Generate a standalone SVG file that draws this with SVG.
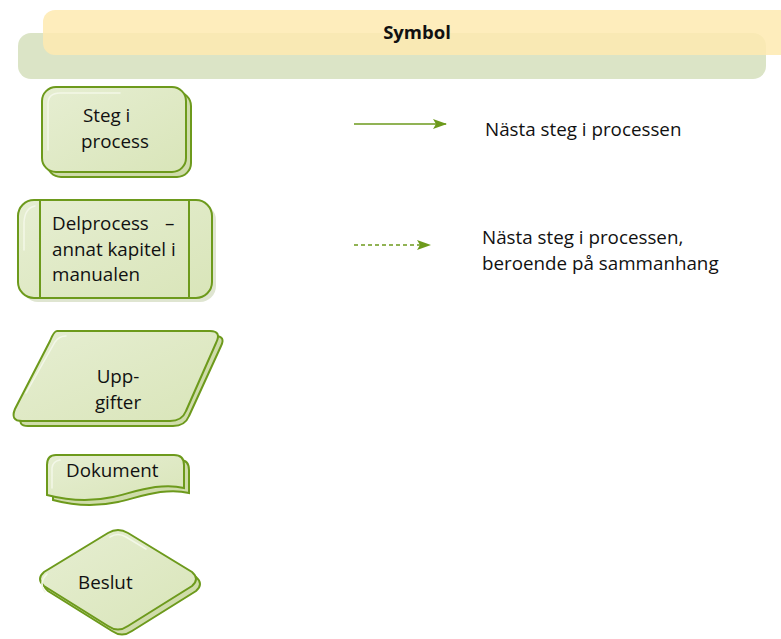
<svg xmlns="http://www.w3.org/2000/svg" width="781" height="639" viewBox="0 0 781 639">
  <defs>
    <linearGradient id="nodeFill" x1="0" y1="0" x2="1" y2="1">
      <stop offset="0" stop-color="#e6eed2"/>
      <stop offset="1" stop-color="#d9e5b9"/>
    </linearGradient>
    <marker id="arrowHead" viewBox="0 0 14 10" refX="13" refY="5" markerWidth="14" markerHeight="10" markerUnits="userSpaceOnUse" orient="auto">
      <path d="M0,0 L14,5 L0,10 L3,5 Z" fill="#6d9a1c"/>
    </marker>
  </defs>
  <style>
    .shape { fill: url(#nodeFill); stroke: #6d9a1c; stroke-width: 2; }
    .shadow { fill: #cfdcaa; stroke: #6d9a1c; stroke-width: 2; }
    .soft { fill: #c9d3b3; opacity: 0.6; }
    .shine { fill: none; stroke: #f3f7e8; stroke-width: 1.5; stroke-linecap: round; }
    .label { font-family: "Open Sans", "Liberation Sans", sans-serif; font-size: 18.8px; fill: #111; }
    .head { font-family: "Open Sans", "Liberation Sans", sans-serif; font-size: 18.5px; font-weight: bold; fill: #111; }
    .edge { fill: none; stroke: #6d9a1c; stroke-width: 1.3; }
  </style>
  <rect width="781" height="639" fill="#ffffff"/>

  <!-- heading band -->
  <g id="header">
    <rect x="18" y="33" width="748" height="46" rx="13" fill="#dbe4c6"/>
    <rect x="43" y="10" width="760" height="45" rx="12" fill="#feeab0" opacity="0.85"/>
    <text class="head" x="417" y="39" text-anchor="middle">Symbol</text>
  </g>

  <!-- process step -->
  <g id="node-steg">
    <rect class="shadow" x="47" y="92" width="144" height="85" rx="14"/>
    <rect class="shape" x="42" y="87" width="144" height="85" rx="14"/>
    <path class="shine" d="M48,150 V104 Q48,93 60,93 H120"/>
    <text class="label" x="83" y="122">Steg i</text>
    <text class="label" x="81" y="148">process</text>
  </g>

  <!-- sub-process -->
  <g id="node-delprocess">
    <rect class="soft" x="22" y="204" width="194" height="98" rx="16"/>
    <rect class="shape" x="18" y="200" width="194" height="98" rx="16"/>
    <line x1="40" y1="200" x2="40" y2="298" stroke="#6d9a1c" stroke-width="2"/>
    <line x1="189" y1="200" x2="189" y2="298" stroke="#6d9a1c" stroke-width="2"/>
    <path class="shine" d="M24,250 V222 Q25,208 35,206"/>
    <text class="label" x="52" y="230">Delprocess<tspan x="165">–</tspan></text>
    <text class="label" x="52" y="256">annat kapitel i</text>
    <text class="label" x="52" y="281">manualen</text>
  </g>

  <!-- tasks -->
  <g id="node-uppgifter">
    <path class="shadow" d="M60,336 H215 Q226,336 221,346 L189,416 Q185,426 173,426 H28 Q17,426 22,416 L53,346 Q57,336 60,336 Z"/>
    <path class="shape" d="M57,331 H210 Q222,331 216,343 L186,411 Q182,421 170,421 H22 Q10,421 15,409 L50,341 Q54,331 57,331 Z"/>
    <path class="shine" d="M26,393 L55,342 Q59,336 66,336"/>
    <text class="label" x="118" y="383" text-anchor="middle">Upp-</text>
    <text class="label" x="118" y="409" text-anchor="middle">gifter</text>
  </g>

  <!-- document -->
  <g id="node-dokument">
    <path class="shadow" d="M60,460 H180 Q189,460 189,470 V493 C165,487 140,497 118,502 C95,507 75,506 53,500 V470 Q53,460 60,460 Z"/>
    <path class="shape" d="M56,455 H174 Q184,455 184,465 V488 C160,482 135,492 113,497 C90,502 70,501 47,495 V465 Q47,455 56,455 Z"/>
    <path class="shine" d="M52,488 V468 Q53,461 60,460"/>
    <text class="label" x="66" y="477">Dokument</text>
  </g>

  <!-- decision -->
  <g id="node-beslut">
    <path class="shadow" d="M112,538 Q122,532 132,538 L196,577 Q204,584 196,591 L132,631 Q122,638 112,631 L48,591 Q40,584 48,577 Z"/>
    <path class="shape" d="M108,533 Q118,527 128,533 L192,572 Q200,579 192,586 L128,626 Q118,633 108,626 L44,586 Q36,579 44,572 Z"/>
    <path class="shine" d="M45,592 Q38,583 47,574"/>
    <path class="shine" d="M110,537 Q118,532 126,537 L146,549"/>
    <text class="label" x="78" y="589">Beslut</text>
  </g>

  <!-- legend connectors -->
  <g id="connectors">
    <line class="edge" x1="354" y1="124" x2="446" y2="124" marker-end="url(#arrowHead)"/>
    <line class="edge" x1="354" y1="245" x2="430" y2="245" stroke-dasharray="4 3" marker-end="url(#arrowHead)"/>
  </g>

  <g id="legend-text">
    <text class="label" x="485" y="136">Nästa steg i processen</text>
    <text class="label" x="482" y="244">Nästa steg i processen,</text>
    <text class="label" x="482" y="270">beroende på sammanhang</text>
  </g>
</svg>
